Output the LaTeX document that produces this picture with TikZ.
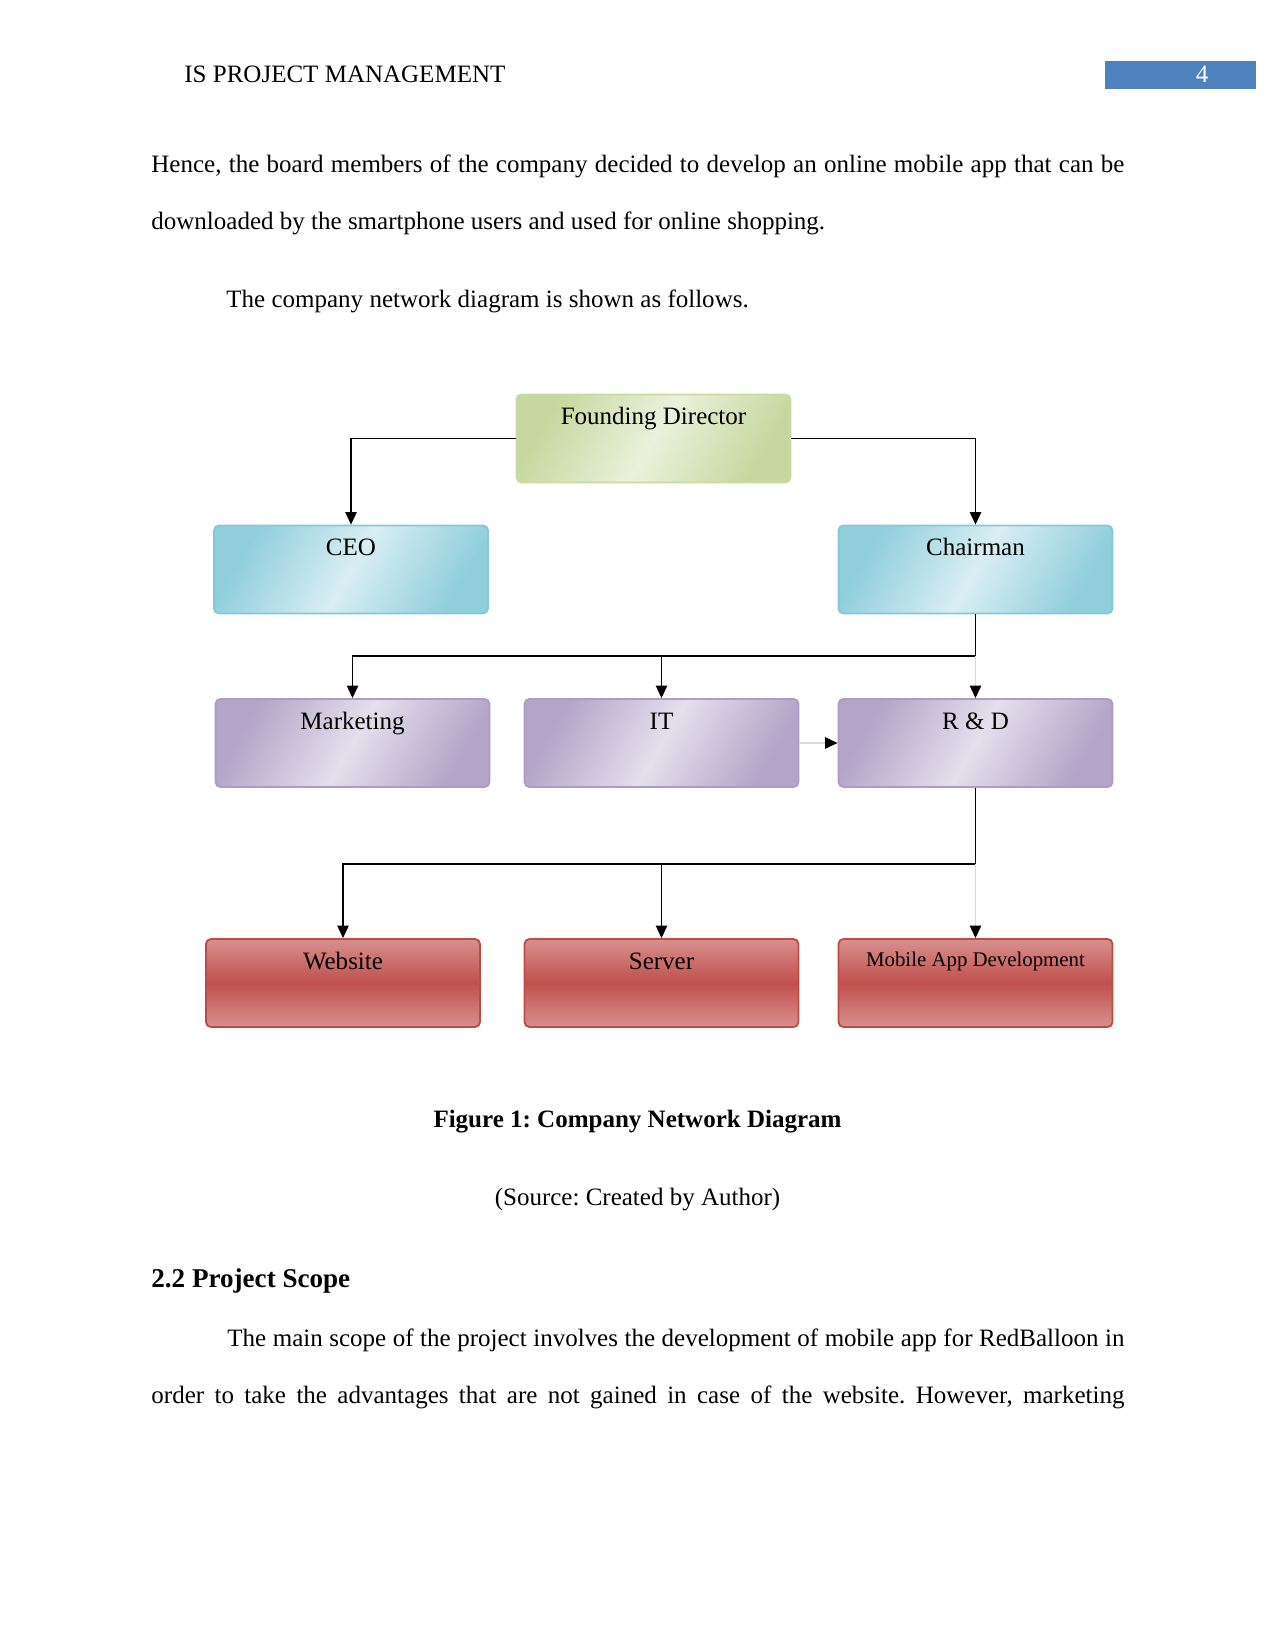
\documentclass[tikz,border=0pt]{standalone}
\usepackage{fontspec}
\setmainfont{Liberation Serif}
\usetikzlibrary{arrows.meta,calc}
\definecolor{hdrblue}{HTML}{4F81BD}
\definecolor{grnA}{HTML}{C6D89F}
\definecolor{grnB}{HTML}{EAF1DC}
\definecolor{grnD}{HTML}{C9DAA3}
\definecolor{bluA}{HTML}{90CEDC}
\definecolor{bluB}{HTML}{D9EEF3}
\definecolor{bluD}{HTML}{86C8D7}
\definecolor{purA}{HTML}{B4A4C8}
\definecolor{purB}{HTML}{E4DFEC}
\definecolor{purD}{HTML}{AD9CC4}
\definecolor{redA}{HTML}{D8908E}
\definecolor{redB}{HTML}{C0504D}
\definecolor{redD}{HTML}{BE4B48}
\frenchspacing
\begin{document}
\begin{tikzpicture}[x=0.4818pt,y=-0.4818pt,
  box/.style={rounded corners=2.4pt, line width=0.9pt, minimum width=274*0.4818pt, minimum height=88*0.4818pt, inner sep=0pt},
  gbox/.style={box, draw=grnD, left color=grnA, right color=grnA, middle color=grnB, shading angle=60},
  bbox/.style={box, draw=bluD, left color=bluA, right color=bluA, middle color=bluB, shading angle=60},
  pbox/.style={box, draw=purD, left color=purA, right color=purA, middle color=purB, shading angle=60},
  rbox/.style={box, draw=redD, top color=redA, bottom color=redA, middle color=redB},
  lbl/.style={anchor=base, inner sep=0pt, font=\fontsize{12.05}{14}\selectfont},
  slbl/.style={anchor=base, inner sep=0pt, font=\fontsize{10.04}{12}\selectfont},
  conn/.style={draw=black, line width=0.6pt, -{Triangle[length=6pt,width=5.5pt]}},
  gconn/.style={draw=black!15, line width=0.6pt, -{Triangle[length=6pt,width=5.5pt,color=black,fill=black]}},
  body/.style={anchor=base west, inner sep=0pt, font=\fontsize{12.05}{14}\selectfont},
  cbody/.style={anchor=base, inner sep=0pt, font=\fontsize{12.05}{14}\selectfont}
]
\fill[white] (0,0) rectangle (1275,1650);
\useasboundingbox (0,0) rectangle (1275,1650);

% header
\node[body] (hdr) at (184,83) {IS PROJECT MANAGEMENT};
\node[fill=hdrblue, minimum width=151*0.4818pt, minimum height=28*0.4818pt, inner sep=0pt] (pgbox) at (1180.5,75) {};
\node[cbody, text=white] (pgnum) at (1202,83) {4};

% body text
\node[body] (l1) at (151,173) {\makebox[468.8pt][s]{Hence, the board members of the company decided to develop an online mobile app that can be}};
\node[body] (l2) at (151,230) {downloaded by the smartphone users and used for online shopping.};
\node[body] (l3) at (226,308) {The company network diagram is shown as follows.};

% boxes
\node[gbox] (fd) at (653.5,438.5) {};
\node[bbox] (ceo) at (351,569.5) {};
\node[bbox] (chair) at (975.5,569.5) {};
\node[pbox] (mkt) at (352.5,743) {};
\node[pbox] (it) at (661.5,743) {};
\node[pbox] (rd) at (975.5,743) {};
\node[rbox] (web) at (343,983) {};
\node[rbox] (srv) at (661.5,983) {};
\node[rbox] (mob) at (975.5,983) {};

% labels
\node[lbl] (fdt) at ($(fd.north)+(0,31)$) {Founding Director};
\node[lbl] (ceot) at ($(ceo.north)+(0,31)$) {CEO};
\node[lbl] (chairt) at ($(chair.north)+(0,31)$) {Chairman};
\node[lbl] (mktt) at ($(mkt.north)+(0,31)$) {Marketing};
\node[lbl] (itt) at ($(it.north)+(0,31)$) {IT};
\node[lbl] (rdt) at ($(rd.north)+(0,31)$) {R \& D};
\node[lbl] (webt) at ($(web.north)+(0,31)$) {Website};
\node[lbl] (srvt) at ($(srv.north)+(0,31)$) {Server};
\node[slbl] (mobt) at ($(mob.north)+(0,28)$) {Mobile App Development};

% connectors
\draw[conn] (fd.west) -| (ceo.north);
\draw[conn] (fd.east) -| (chair.north);

\coordinate (b1) at (975.5,656);
\draw[line width=0.6pt] (chair.south) -- (b1);
\draw[conn] (b1) -| (mkt.north);
\draw[conn] (b1 -| it.north) -- (it.north);
\draw[gconn] (b1) -- (rd.north);
\draw[gconn] (it.east) -- (rd.west);

\coordinate (b2) at (975.5,864);
\draw[line width=0.6pt] (rd.south) -- (b2);
\draw[conn] (b2) -| (web.north);
\draw[conn] (b2 -| srv.north) -- (srv.north);
\draw[gconn] (b2) -- (mob.north);

% caption
\node[cbody, font=\fontsize{12.05}{14}\selectfont\bfseries] (cap) at (637.5,1127) {Figure 1: Company Network Diagram};
\node[cbody] (src) at (637.5,1205) {(Source: Created by Author)};

% section
\node[body, font=\fontsize{13.05}{15}\selectfont\bfseries] (sec) at (151,1287) {2.2 Project Scope};
\node[body] (p1) at (227,1346) {\makebox[432.2pt][s]{The main scope of the project involves the development of mobile app for RedBalloon in}};
\node[body] (p2) at (151,1403) {\makebox[468.8pt][s]{order to take the advantages that are not gained in case of the website. However, marketing}};
\end{tikzpicture}
\end{document}
